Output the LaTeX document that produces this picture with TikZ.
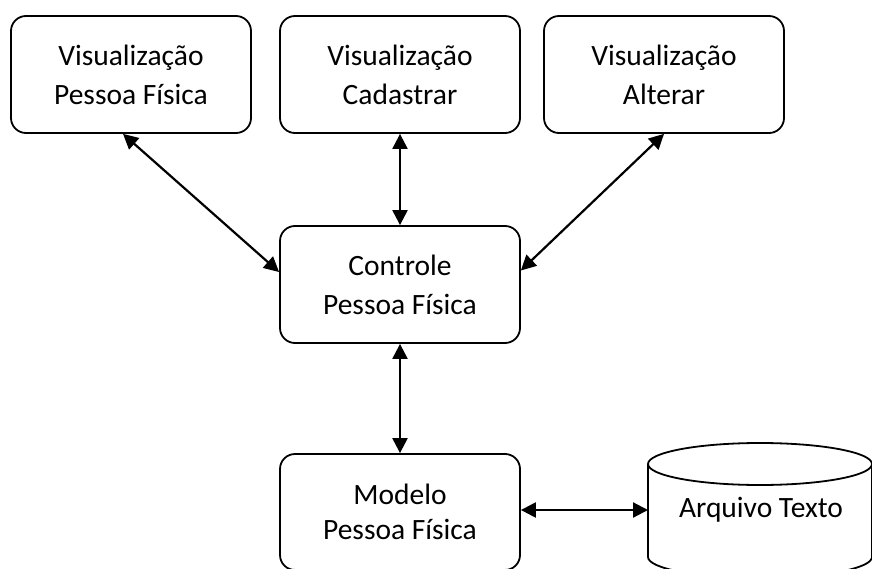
\documentclass[tikz,border=0pt]{standalone}
\usepackage{fontspec}
\setmainfont{Carlito}
\usetikzlibrary{arrows.meta,calc}
\tikzset{
  box/.style={draw, line width=1.8pt, rounded corners=15pt, minimum width=240pt,
    minimum height=117pt, align=center, inner sep=0pt,
    font=\fontsize{29.5}{39}\selectfont},
  link/.style={line width=2.2pt, {Triangle[length=15pt,width=15pt]}-{Triangle[length=15pt,width=15pt]}},
  cyl/.style={line width=1.8pt}
}
\begin{document}
\begin{tikzpicture}[x=1pt,y=-1pt]
\useasboundingbox (0,0) rectangle (872,569);
\node[box] (v1) at (131,74.5) {Visualização\\Pessoa Física};
\node[box] (v2) at (400,74.5) {Visualização\\Cadastrar};
\node[box] (v3) at (664,74.5) {Visualização\\Alterar};
\node[box] (ctrl) at (400,284.5) {Controle\\Pessoa Física};
\node[box, minimum height=116pt] (model) at (400,512) {Modelo\\[-4pt]Pessoa Física};
% cylinder
\draw[cyl] (760,464) ellipse [x radius=112pt, y radius=21pt];
\draw[cyl] (648,464) -- (648,557) arc[start angle=180, end angle=360, x radius=112pt, y radius=21pt] -- (872,464);
\coordinate (dbl) at (648,510);
\node[font=\fontsize{29.5}{39}\selectfont] (db) at (761,510) {Arquivo Texto};
% connectors
\draw[link] ($(v1.south)+(-8,0)$) -- ($(ctrl.west)+(0,-12.5)$);
\draw[link] (v2.south) -- (ctrl.north);
\draw[link] (v3.south) -- ($(ctrl.east)+(0,-14)$);
\draw[link] (ctrl.south) -- (model.north);
\draw[link] (model.east |- dbl) -- (dbl);
\end{tikzpicture}
\end{document}
